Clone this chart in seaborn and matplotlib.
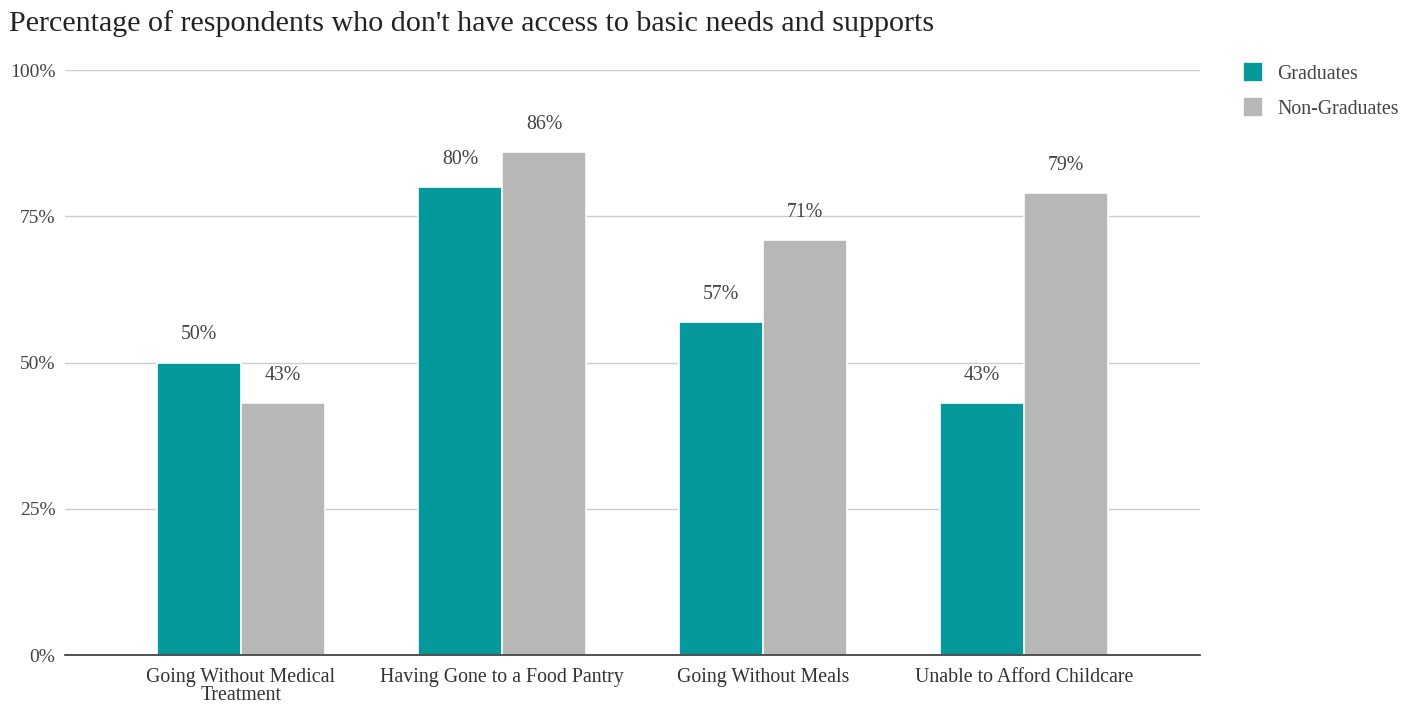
import matplotlib
matplotlib.use("Agg")
import matplotlib.pyplot as plt
import seaborn as sns
import pandas as pd

categories = ["Going Without Medical\nTreatment", "Having Gone to a Food Pantry",
              "Going Without Meals", "Unable to Afford Childcare"]
series_names = ["Graduates", "Non-Graduates"]
graduates = [50, 80, 57, 43]
non_graduates = [43, 86, 71, 79]
y_ticks = [0, 25, 50, 75, 100]
y_tick_labels = ["0%", "25%", "50%", "75%", "100%"]
title = "Percentage of respondents who don't have access to basic needs and supports"

colors = ["#05999c", "#b7b7b7"]

df = pd.DataFrame({
    "category": categories * 2,
    "group": [series_names[0]] * 4 + [series_names[1]] * 4,
    "value": graduates + non_graduates,
})

sns.set_theme(style="white")
plt.rcParams["font.family"] = ["Liberation Serif", "DejaVu Serif"]

fig = plt.figure(figsize=(14.17, 7.06), dpi=100)
ax = fig.add_axes([0.0459, 0.0722, 0.8010, 0.8286])

sns.barplot(data=df, x="category", y="value", hue="group", palette=colors,
            width=0.644, edgecolor="white", linewidth=1.2, saturation=1,
            ax=ax, legend=True)

ax.set_ylim(0, 100)
ax.set_xlim(-0.674, 3.674)
ax.set_yticks(y_ticks)
ax.set_yticklabels(y_tick_labels, fontsize=14, color="#444444")
ax.tick_params(axis="x", labelsize=14.3, colors="#333333", length=0, pad=9)
ax.tick_params(axis="y", length=0, pad=7)
for lbl in ax.get_xticklabels():
    lbl.set_linespacing(0.95)
ax.set_xlabel("")
ax.set_ylabel("")
ax.grid(axis="y", color="#cccccc", linewidth=1)
ax.set_axisbelow(True)
for side in ["top", "right", "left"]:
    ax.spines[side].set_visible(False)
ax.spines["bottom"].set_color("#333333")
ax.spines["bottom"].set_linewidth(1.2)
ax.spines["bottom"].set_zorder(5)

for container in ax.containers:
    ax.bar_label(container, labels=[f"{v:.0f}%" for v in container.datavalues],
                 padding=13, fontsize=14.3, color="#444444")

ax.get_legend().remove()
handles, labels = ax.get_legend_handles_labels()
leg = fig.legend(handles, labels, loc="upper left",
                 bbox_to_anchor=(1243 / 1417, 1 - 62 / 706),
                 frameon=False, fontsize=14.3, borderpad=0, borderaxespad=0,
                 handlelength=1.0, handleheight=1.2,
                 handletextpad=0.72, labelspacing=0.65)
for t in leg.get_texts():
    t.set_color("#444444")

fig.text(0.006, 0.986, title, fontsize=21.6, color="#222222", va="top", ha="left")

fig.savefig("out.png", dpi=100)
